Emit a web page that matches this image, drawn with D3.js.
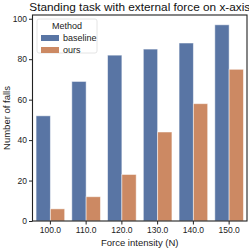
<!DOCTYPE html>
<html>
<head>
<meta charset="utf-8">
<script src="https://cdn.jsdelivr.net/npm/d3@7"></script>
<style>
  body { margin: 0; background: #fff; }
  text { font-family: "Liberation Sans", Arial, sans-serif; }
</style>
</head>
<body>
<div id="chart"></div>
<script>
const forces = ["100.0", "110.0", "120.0", "130.0", "140.0", "150.0"];
const methods = ["baseline", "ours"];
const baseline = [52, 69, 82, 85, 88, 97];
const ours = [6, 12, 23, 44, 58, 75];
const yTicks = [0, 20, 40, 60, 80, 100];
const colors = ["#5975a4", "#cc8963"];

const rows = forces.map((f, i) => ({force: f, baseline: baseline[i], ours: ours[i]}));

const margin = {top: 15, right: 2, bottom: 28, left: 32.5},
      width = 249 - margin.left - margin.right,
      height = 249 - margin.top - margin.bottom;

const svg = d3.select("#chart").append("svg")
  .attr("width", 249).attr("height", 249)
  .append("g")
  .attr("transform", `translate(${margin.left},${margin.top})`);

const x = d3.scaleBand().domain(forces).range([0, width]).paddingInner(0.2).paddingOuter(0.1);
const x1 = d3.scaleBand().domain(methods).range([0, x.bandwidth()]);
const y = d3.scaleLinear().domain([0, d3.max(baseline) * 1.05]).range([height, 0]);

const groups = svg.selectAll("g.grp").data(rows).enter().append("g")
  .attr("class", "grp")
  .attr("transform", d => `translate(${x(d.force)},0)`);

groups.selectAll("rect")
  .data(d => methods.map((m, j) => ({m, v: d[m], j})))
  .enter().append("rect")
  .attr("x", d => x1(d.m))
  .attr("y", d => y(d.v))
  .attr("width", x1.bandwidth())
  .attr("height", d => height - y(d.v))
  .attr("fill", d => colors[d.j])
  .attr("stroke", "#fff")
  .attr("stroke-opacity", 0.55)
  .attr("stroke-width", 0.9);

const xAxis = svg.append("g").attr("transform", `translate(0,${height})`)
  .call(d3.axisBottom(x).tickSizeOuter(0).tickSize(3.5).tickPadding(2));
const yAxis = svg.append("g")
  .call(d3.axisLeft(y).tickValues(yTicks).tickSizeOuter(0).tickSize(3.5).tickPadding(2));

[xAxis, yAxis].forEach(a => {
  a.select(".domain").remove();
  a.selectAll("line").attr("stroke", "#222").attr("stroke-width", 1);
  a.selectAll("text").attr("fill", "#222").style("font-size", "8.5px")
   .style("font-family", "'Liberation Sans', Arial, sans-serif");
});

// frame
svg.append("rect").attr("x", 0).attr("y", 0).attr("width", width).attr("height", height)
  .attr("fill", "none").attr("stroke", "#222").attr("stroke-width", 1.1);

svg.append("text").attr("x", width / 2).attr("y", -4)
  .attr("text-anchor", "middle").style("font-size", "11.8px").attr("fill", "#111")
  .text("Standing task with external force on x-axis");

svg.append("text").attr("x", width / 2).attr("y", height + 25)
  .attr("text-anchor", "middle").style("font-size", "9.5px").attr("fill", "#222")
  .text("Force intensity (N)");

svg.append("text").attr("transform", `translate(-23,${height / 2}) rotate(-90)`)
  .attr("text-anchor", "middle").style("font-size", "9.5px").attr("fill", "#222")
  .text("Number of falls");

// legend
const lg = svg.append("g").attr("transform", "translate(4.5,4)");
lg.append("rect").attr("width", 60).attr("height", 34).attr("rx", 2)
  .attr("fill", "#fff").attr("fill-opacity", 0.8).attr("stroke", "#ddd").attr("stroke-width", 0.8);
lg.append("text").attr("x", 30).attr("y", 10).attr("text-anchor", "middle")
  .style("font-size", "9px").attr("fill", "#222").text("Method");
methods.forEach((m, i) => {
  lg.append("rect").attr("x", 4).attr("y", 16 + i * 12).attr("width", 18).attr("height", 6)
    .attr("fill", colors[i]);
  lg.append("text").attr("x", 26).attr("y", 22 + i * 12)
    .style("font-size", "9px").attr("fill", "#222").text(m);
});
</script>
</body>
</html>
